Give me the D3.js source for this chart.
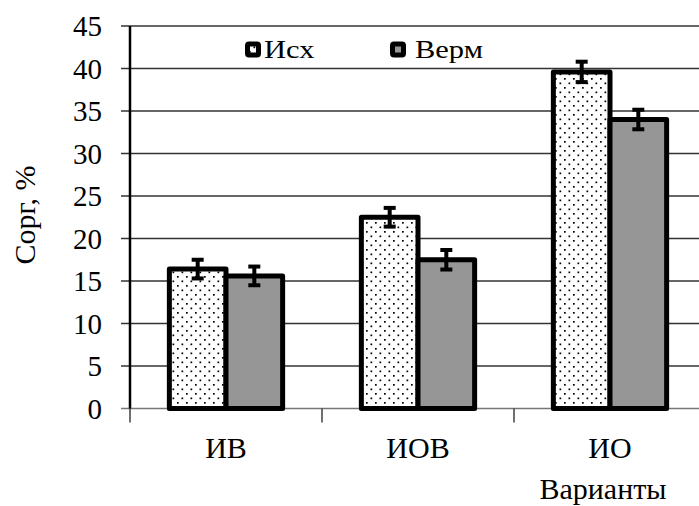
<!DOCTYPE html>
<html>
<head>
<meta charset="utf-8">
<script src="https://cdn.jsdelivr.net/npm/d3@7"></script>
<style>
  body { margin: 0; background: #fff; }
  svg { display: block; }
  svg text { font-family: 'Liberation Serif', 'Times New Roman', serif; fill: #000; }
</style>
</head>
<body>
<svg width="699" height="506"></svg>
<script>
const svg = d3.select('svg');

// data
const categories = ['ИВ', 'ИОВ', 'ИО'];
const seriesNames = ['Исх', 'Верм'];
const ishValues = [16.4, 22.5, 39.6];
const vermValues = [15.6, 17.5, 34.0];
const ishErr = [1.1, 1.1, 1.2];
const vermErr = [1.1, 1.15, 1.15];
const yTicks = [0, 5, 10, 15, 20, 25, 30, 35, 40, 45];

const x0 = 130, x1 = 706;
const yTop = 26, yBottom = 408.5;

const x = d3.scaleBand().domain(categories).range([x0, x1])
  .paddingInner(0.41).paddingOuter(0.205);
const xs = d3.scaleBand().domain(seriesNames).range([0, x.bandwidth()]);
const y = d3.scaleLinear().domain([0, 45]).range([yBottom, yTop]);

// dotted pattern
const defs = svg.append('defs');
const pat = defs.append('pattern')
  .attr('id', 'dots')
  .attr('patternUnits', 'userSpaceOnUse')
  .attr('width', 9).attr('height', 9);
pat.append('rect').attr('width', 9).attr('height', 9).attr('fill', '#fff');
pat.append('rect').attr('x', 1.5).attr('y', 1.5).attr('width', 1.7).attr('height', 1.7).attr('fill', '#000');
pat.append('rect').attr('x', 6).attr('y', 6).attr('width', 1.7).attr('height', 1.7).attr('fill', '#000');

const fills = { 'Исх': 'url(#dots)', 'Верм': '#969696' };

// gridlines + y ticks
svg.append('g').selectAll('line').data(yTicks)
  .enter().append('line')
  .attr('x1', 121).attr('x2', 699)
  .attr('y1', d => y(d)).attr('y2', d => y(d))
  .attr('stroke', d => d === 0 ? '#777' : '#333')
  .attr('stroke-width', 1.5);

svg.append('g').selectAll('text').data(yTicks)
  .enter().append('text')
  .attr('x', 102).attr('y', d => y(d) + 10)
  .attr('text-anchor', 'end')
  .style('font-size', '29px')
  .text(d => d);

// x ticks at category boundaries
const bounds = [x0, x0 + x.step(), x0 + 2 * x.step()];
svg.append('g').selectAll('line').data(bounds)
  .enter().append('line')
  .attr('x1', d => d).attr('x2', d => d)
  .attr('y1', yBottom).attr('y2', yBottom + 14)
  .attr('stroke', '#222').attr('stroke-width', 1.3);

// y axis line
svg.append('line')
  .attr('x1', x0).attr('x2', x0)
  .attr('y1', yTop).attr('y2', yBottom)
  .attr('stroke', '#000').attr('stroke-width', 2.5);

// bars
const rows = [];
categories.forEach((c, i) => {
  rows.push({ cat: c, s: 'Исх', v: ishValues[i], e: ishErr[i] });
  rows.push({ cat: c, s: 'Верм', v: vermValues[i], e: vermErr[i] });
});

svg.append('g').selectAll('rect').data(rows)
  .enter().append('rect')
  .attr('x', d => x(d.cat) + xs(d.s))
  .attr('y', d => y(d.v))
  .attr('width', xs.bandwidth())
  .attr('height', d => y(0) - y(d.v))
  .attr('fill', d => fills[d.s])
  .attr('stroke', '#000')
  .attr('stroke-width', 5)
  .attr('stroke-linejoin', 'round');

// error bars
const eb = svg.append('g').selectAll('g').data(rows).enter().append('g')
  .attr('stroke', '#000').attr('stroke-width', 4);
const cx = d => x(d.cat) + xs(d.s) + xs.bandwidth() / 2;
eb.append('line')
  .attr('x1', cx).attr('x2', cx)
  .attr('y1', d => y(d.v + d.e)).attr('y2', d => y(d.v - d.e));
eb.append('line')
  .attr('x1', d => cx(d) - 6).attr('x2', d => cx(d) + 6)
  .attr('y1', d => y(d.v + d.e)).attr('y2', d => y(d.v + d.e));
eb.append('line')
  .attr('x1', d => cx(d) - 6).attr('x2', d => cx(d) + 6)
  .attr('y1', d => y(d.v - d.e)).attr('y2', d => y(d.v - d.e));

// category labels
svg.append('g').selectAll('text').data(categories)
  .enter().append('text')
  .attr('x', d => x(d) + x.bandwidth() / 2)
  .attr('y', 458)
  .attr('text-anchor', 'middle')
  .style('font-size', '30px')
  .text(d => d);

svg.append('text')
  .attr('x', 603).attr('y', 499)
  .attr('text-anchor', 'middle')
  .style('font-size', '30px')
  .text('Варианты');

svg.append('text')
  .attr('transform', 'translate(35,215) rotate(-90)')
  .attr('text-anchor', 'middle')
  .style('font-size', '30px')
  .text('Сорг, %');

// legend
const legIconX = [245, 390];
const legTextX = [264, 415];
const leg = svg.append('g').selectAll('g').data(seriesNames)
  .enter().append('g');
leg.append('rect')
  .attr('x', (d, i) => legIconX[i] + 2.5).attr('y', 44)
  .attr('width', 11).attr('height', 11)
  .attr('rx', 1.5)
  .attr('fill', d => fills[d])
  .attr('stroke', '#000').attr('stroke-width', 5);
leg.append('text')
  .attr('transform', (d, i) => `translate(${legTextX[i]},58) scale(1.22,1)`)
  .style('font-size', '25px')
  .text(d => d);
</script>
</body>
</html>
